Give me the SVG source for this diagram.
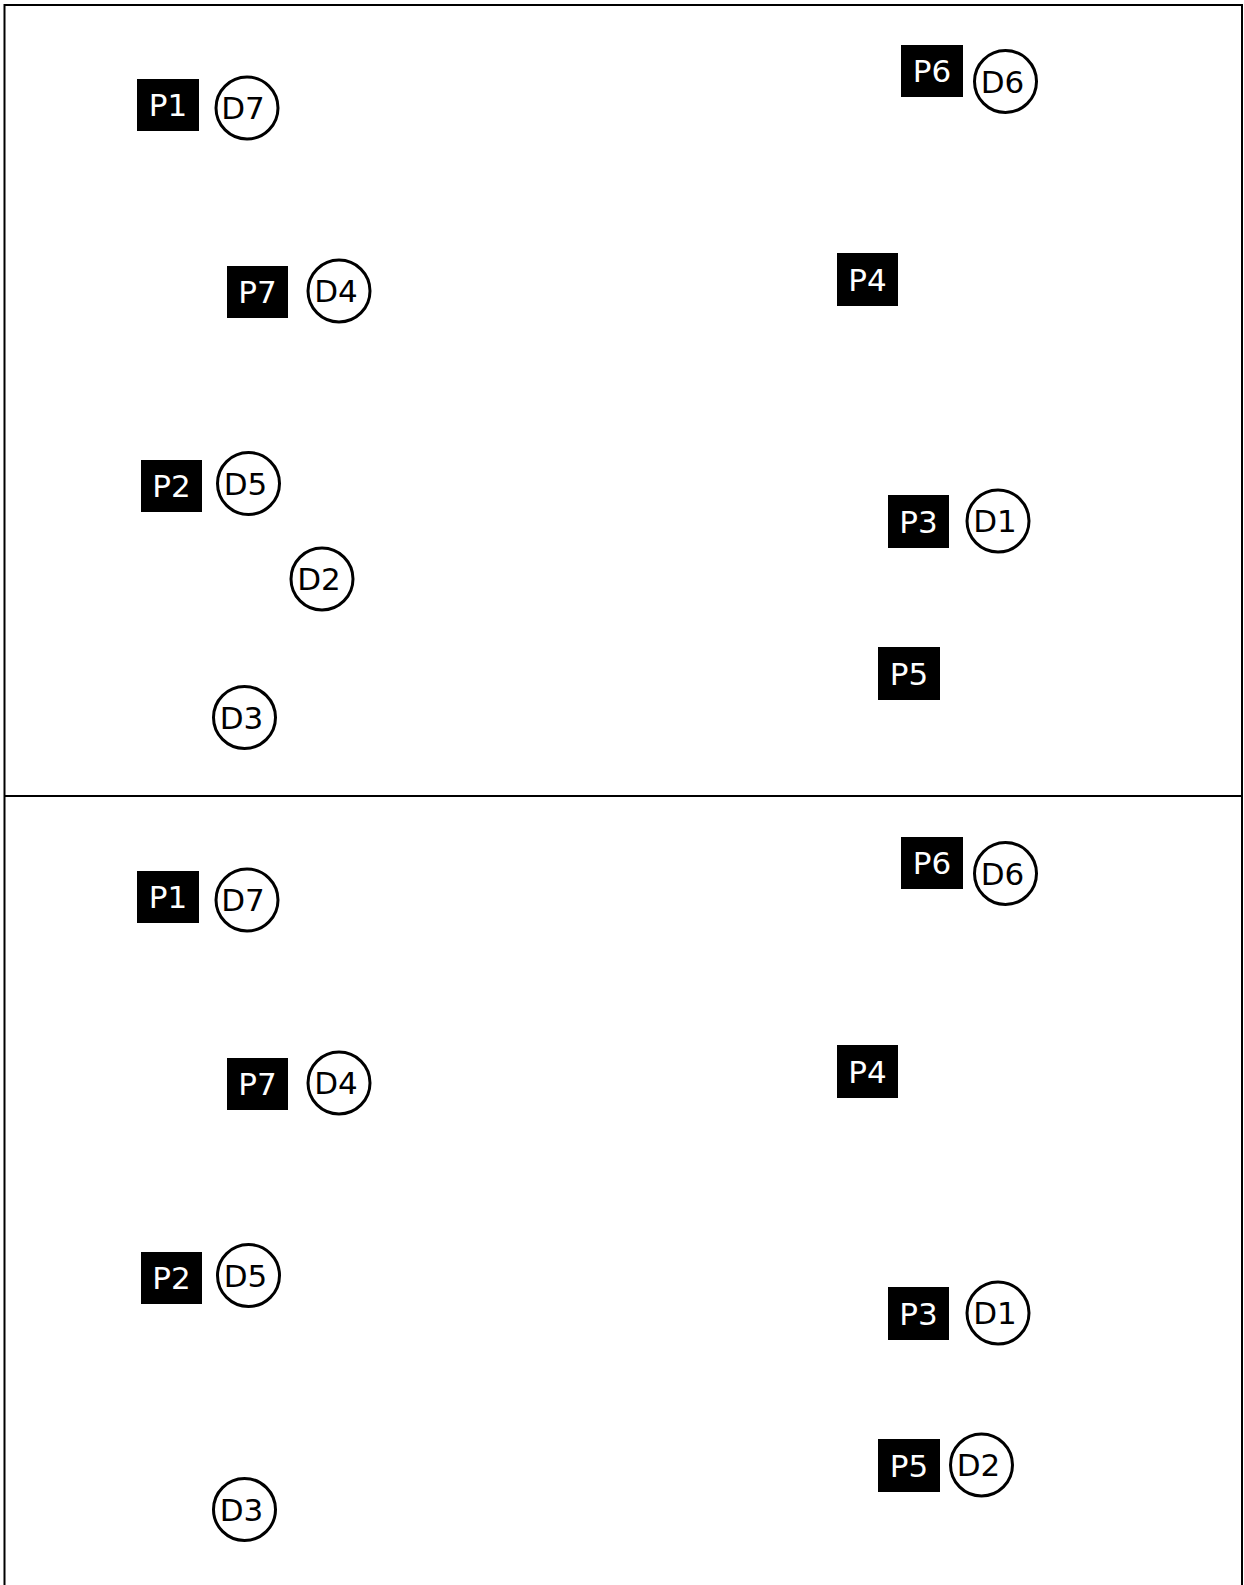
<svg xmlns="http://www.w3.org/2000/svg" width="1244" height="1585" viewBox="0 0 1244 1585">
<style>
.p rect{fill:#000}
.p text{fill:#fff}
.d circle{fill:#fff;stroke:#000;stroke-width:3}
.d text{fill:#000}
text{font-family:"DejaVu Sans",Verdana,sans-serif;font-size:31px;text-anchor:middle;dominant-baseline:central}
.frame{fill:none;stroke:#000;stroke-width:2}
</style>
<rect width="1244" height="1585" fill="#fff"/>
<g id="frame">
<rect class="frame" x="4.5" y="5" width="1237.5" height="1600"/>
<line x1="4.5" y1="796" x2="1242" y2="796" stroke="#000" stroke-width="2"/>
</g>
<g id="connectors"></g>
<g id="top">
<g id="t-P1" class="p"><rect x="137" y="79" width="62" height="52"/><text x="168" y="105">P1</text></g>
<g id="t-D7" class="d"><circle cx="247" cy="108" r="31"/><text x="243" y="108">D7</text></g>
<g id="t-P7" class="p"><rect x="227" y="266" width="61" height="52"/><text x="257.5" y="292">P7</text></g>
<g id="t-D4" class="d"><circle cx="339" cy="291" r="31"/><text x="336" y="291">D4</text></g>
<g id="t-P2" class="p"><rect x="141" y="460" width="61" height="52"/><text x="171.5" y="486">P2</text></g>
<g id="t-D5" class="d"><circle cx="248.5" cy="483.5" r="31"/><text x="245.5" y="483.5">D5</text></g>
<g id="t-D2" class="d"><circle cx="322" cy="579" r="31"/><text x="319" y="579">D2</text></g>
<g id="t-D3" class="d"><circle cx="244.5" cy="717.5" r="31"/><text x="241.5" y="717.5">D3</text></g>
<g id="t-P6" class="p"><rect x="901" y="45" width="62" height="52"/><text x="932" y="71">P6</text></g>
<g id="t-D6" class="d"><circle cx="1005.5" cy="81.5" r="31"/><text x="1002.5" y="81.5">D6</text></g>
<g id="t-P4" class="p"><rect x="837" y="253" width="61" height="53"/><text x="867.5" y="279.5">P4</text></g>
<g id="t-P3" class="p"><rect x="888" y="495" width="61" height="53"/><text x="918.5" y="521.5">P3</text></g>
<g id="t-D1" class="d"><circle cx="998" cy="521" r="31"/><text x="995" y="521">D1</text></g>
<g id="t-P5" class="p"><rect x="878" y="647" width="62" height="53"/><text x="909" y="673.5">P5</text></g>
</g>
<g id="bottom" transform="translate(0,792)">
<g id="b-P1" class="p"><rect x="137" y="79" width="62" height="52"/><text x="168" y="105">P1</text></g>
<g id="b-D7" class="d"><circle cx="247" cy="108" r="31"/><text x="243" y="108">D7</text></g>
<g id="b-P7" class="p"><rect x="227" y="266" width="61" height="52"/><text x="257.5" y="292">P7</text></g>
<g id="b-D4" class="d"><circle cx="339" cy="291" r="31"/><text x="336" y="291">D4</text></g>
<g id="b-P2" class="p"><rect x="141" y="460" width="61" height="52"/><text x="171.5" y="486">P2</text></g>
<g id="b-D5" class="d"><circle cx="248.5" cy="483.5" r="31"/><text x="245.5" y="483.5">D5</text></g>
<g id="b-D3" class="d"><circle cx="244.5" cy="717.5" r="31"/><text x="241.5" y="717.5">D3</text></g>
<g id="b-P6" class="p"><rect x="901" y="45" width="62" height="52"/><text x="932" y="71">P6</text></g>
<g id="b-D6" class="d"><circle cx="1005.5" cy="81.5" r="31"/><text x="1002.5" y="81.5">D6</text></g>
<g id="b-P4" class="p"><rect x="837" y="253" width="61" height="53"/><text x="867.5" y="279.5">P4</text></g>
<g id="b-P3" class="p"><rect x="888" y="495" width="61" height="53"/><text x="918.5" y="521.5">P3</text></g>
<g id="b-D1" class="d"><circle cx="998" cy="521" r="31"/><text x="995" y="521">D1</text></g>
<g id="b-P5" class="p"><rect x="878" y="647" width="62" height="53"/><text x="909" y="673.5">P5</text></g>
<g id="b-D2" class="d"><circle cx="981.5" cy="673" r="31"/><text x="978.5" y="673">D2</text></g>
</g>
</svg>
